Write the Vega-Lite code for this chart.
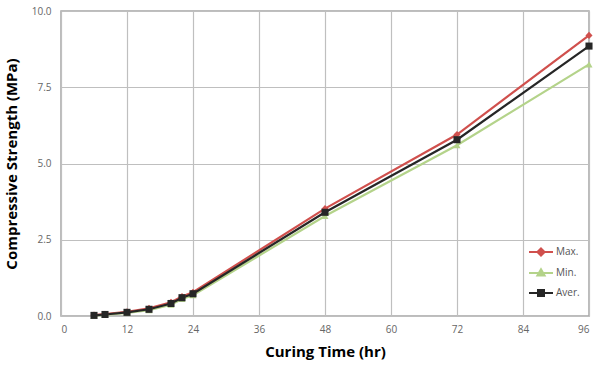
{
  "$schema": "https://vega.github.io/schema/vega-lite/v6.json",
  "autosize": "none",
  "width": 528,
  "height": 305,
  "padding": {"left": 61, "top": 11, "right": 7, "bottom": 52},
  "background": "white",
  "config": {
    "view": {"stroke": "#a6a6a6", "strokeWidth": 1.5},
    "font": "Open Sans"
  },
  "data": {
    "values": [
      {"t": 6, "series": "Max.", "v": 0.03},
      {"t": 8, "series": "Max.", "v": 0.06},
      {"t": 12, "series": "Max.", "v": 0.14},
      {"t": 16, "series": "Max.", "v": 0.25},
      {"t": 20, "series": "Max.", "v": 0.45},
      {"t": 22, "series": "Max.", "v": 0.64},
      {"t": 24, "series": "Max.", "v": 0.78},
      {"t": 48, "series": "Max.", "v": 3.52},
      {"t": 72, "series": "Max.", "v": 5.95},
      {"t": 96, "series": "Max.", "v": 9.2},
      {"t": 6, "series": "Min.", "v": 0.01},
      {"t": 8, "series": "Min.", "v": 0.04},
      {"t": 12, "series": "Min.", "v": 0.1},
      {"t": 16, "series": "Min.", "v": 0.19},
      {"t": 20, "series": "Min.", "v": 0.37},
      {"t": 22, "series": "Min.", "v": 0.56},
      {"t": 24, "series": "Min.", "v": 0.68},
      {"t": 48, "series": "Min.", "v": 3.28},
      {"t": 72, "series": "Min.", "v": 5.6},
      {"t": 96, "series": "Min.", "v": 8.25},
      {"t": 6, "series": "Aver.", "v": 0.02},
      {"t": 8, "series": "Aver.", "v": 0.05},
      {"t": 12, "series": "Aver.", "v": 0.12},
      {"t": 16, "series": "Aver.", "v": 0.22},
      {"t": 20, "series": "Aver.", "v": 0.41},
      {"t": 22, "series": "Aver.", "v": 0.6},
      {"t": 24, "series": "Aver.", "v": 0.73},
      {"t": 48, "series": "Aver.", "v": 3.4},
      {"t": 72, "series": "Aver.", "v": 5.78},
      {"t": 96, "series": "Aver.", "v": 8.85}
    ]
  },
  "encoding": {
    "x": {
      "field": "t", "type": "quantitative",
      "scale": {"domain": [0, 96], "nice": false},
      "axis": {
        "values": [0, 12, 24, 36, 48, 60, 72, 84, 96],
        "title": "Curing Time (hr)",
        "titleFont": "Open Sans", "titleFontSize": 15, "titleFontWeight": "bold", "titleColor": "#000000",
        "titlePadding": 10,
        "labelColor": "#666666", "labelFontSize": 10, "labelPadding": 8,
        "ticks": false, "domain": false,
        "gridColor": "#bfbfbf", "gridWidth": 1.2
      }
    },
    "y": {
      "field": "v", "type": "quantitative",
      "scale": {"domain": [0, 10], "nice": false},
      "axis": {
        "values": [0, 2.5, 5, 7.5, 10],
        "format": ".1f",
        "title": "Compressive Strength (MPa)",
        "titleFont": "Open Sans", "titleFontSize": 15, "titleFontWeight": "bold", "titleColor": "#000000",
        "titlePadding": 12,
        "labelColor": "#666666", "labelFontSize": 10, "labelPadding": 10,
        "ticks": false, "domain": false,
        "gridColor": "#bfbfbf", "gridWidth": 1.2
      }
    },
    "color": {
      "field": "series", "type": "nominal",
      "scale": {"domain": ["Max.", "Min.", "Aver."], "range": ["#d0504d", "#b4d38a", "#262626"]},
      "legend": {
        "orient": "none", "legendX": 467, "legendY": 228, "padding": 0,
        "title": null, "labelFontSize": 10, "labelColor": "#555555", "labelOffset": 2,
        "rowPadding": 0, "symbolSize": 576, "symbolStrokeWidth": 2,
        "encode": {
          "symbols": {
            "update": {
              "shape": {"signal": "datum.value === 'Max.' ? 'M-1,0H1M0,-0.3L0.3,0L0,0.3L-0.3,0Z' : datum.value === 'Min.' ? 'M-1,0H1M0,-0.32L0.3,0.2L-0.3,0.2Z' : 'M-1,0H1M-0.25,-0.25H0.25V0.25H-0.25Z'"},
              "fill": {"scale": "color", "field": "value"},
              "stroke": {"scale": "color", "field": "value"},
              "strokeWidth": {"value": 2},
              "opacity": {"value": 1}
            }
          }
        }
      }
    }
  },
  "layer": [
    {
      "mark": {"type": "line", "strokeWidth": 2.2},
      "encoding": {"detail": {"field": "series"}}
    },
    {
      "transform": [{"filter": "datum.series === 'Max.'"}],
      "mark": {"type": "point", "filled": true, "opacity": 1, "shape": "diamond", "size": 50}
    },
    {
      "transform": [{"filter": "datum.series === 'Min.'"}],
      "mark": {"type": "point", "filled": true, "opacity": 1, "shape": "triangle-up", "size": 50}
    },
    {
      "transform": [{"filter": "datum.series === 'Aver.'"}],
      "mark": {"type": "point", "filled": true, "opacity": 1, "shape": "square", "size": 50}
    }
  ]
}
